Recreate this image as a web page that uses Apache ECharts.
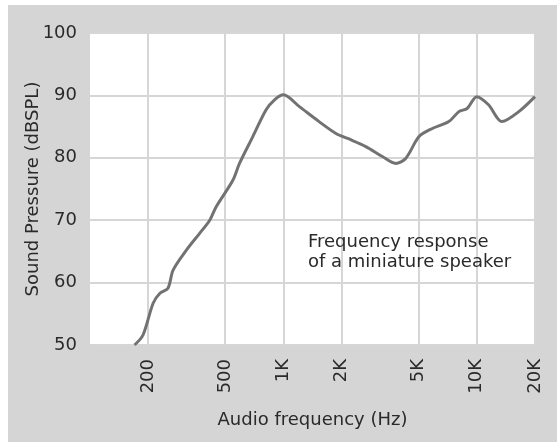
<!DOCTYPE html>
<html><head><meta charset="utf-8">
<script src="https://cdn.jsdelivr.net/npm/echarts@6/dist/echarts.min.js"></script>
<style>
html,body{margin:0;padding:0;background:#fff}
#wrap{position:relative;width:557px;height:442px;background:#fff}
#bg{position:absolute;left:8px;top:5px;width:549px;height:437px;background:#d5d5d5}
#c{position:absolute;left:0;top:0;width:557px;height:442px}
</style>
</head><body><div id="wrap"><div id="bg"></div><div id="c"></div></div>
<script>
const freqHz = [170, 188, 212, 230, 253, 269, 315, 369, 416, 450, 548, 593, 695, 814, 900, 1000, 1210, 1530, 1870, 2150, 2670, 3250, 3810, 4290, 5030, 5890, 7170, 8080, 8910, 10000, 11500, 13500, 16500, 20000];
const splDb = [50, 51.6, 56.7, 58.3, 59.1, 62.0, 65.2, 67.9, 70.0, 72.2, 76.4, 79.1, 83.4, 87.7, 89.3, 90.1, 88.2, 85.8, 83.9, 83.1, 81.8, 80.2, 79.1, 79.9, 83.4, 84.7, 85.8, 87.4, 87.9, 89.8, 88.5, 85.8, 87.4, 89.8];
const xTickValues = [200, 500, 1000, 2000, 5000, 10000, 20000];
const xTickLabels = ['200', '500', '1K', '2K', '5K', '10K', '20K'];
const yMin = 50, yMax = 100, yStep = 10;
const annotation = ['Frequency response', 'of a miniature speaker'];

const FONT = 'DejaVu Sans';
const TXT = '#2a2a2a';
const chart = echarts.init(document.getElementById('c'), null, {renderer: 'canvas'});
chart.setOption({
  backgroundColor: 'transparent',
  animation: false,
  grid: {left: 90, right: 22, top: 33, bottom: 97, show: true, backgroundColor: '#ffffff', borderWidth: 0},
  xAxis: {
    type: 'log', logBase: 10, min: 100, max: 20000,
    name: 'Audio frequency (Hz)', nameLocation: 'middle', nameGap: 66, nameMoveOverlap: false,
    nameTextStyle: {fontFamily: FONT, fontSize: 18, color: TXT},
    axisLine: {show: false},
    axisTick: {show: false, customValues: xTickValues},
    axisLabel: {
      customValues: xTickValues, rotate: 90, margin: 14,
      fontFamily: FONT, fontSize: 18, color: TXT,
      formatter: function (v) {
        const i = xTickValues.findIndex(t => Math.abs(t - v) / t < 1e-6);
        return i >= 0 ? xTickLabels[i] : '';
      }
    },
    splitLine: {show: true, lineStyle: {color: '#d6d6d6', width: 2}},
    minorSplitLine: {show: false}
  },
  yAxis: {
    type: 'value', min: yMin, max: yMax, interval: yStep,
    name: 'Sound Pressure (dBSPL)', nameLocation: 'middle', nameGap: 48, nameRotate: 90, nameMoveOverlap: false,
    nameTextStyle: {fontFamily: FONT, fontSize: 18, color: TXT},
    axisLine: {show: false}, axisTick: {show: false},
    axisLabel: {margin: 13, fontFamily: FONT, fontSize: 18, color: TXT},
    splitLine: {show: true, lineStyle: {color: '#d6d6d6', width: 2}}
  },
  graphic: [{
    type: 'text', left: 308, top: 232, z: 10,
    style: {text: annotation.join('\n'), font: '18px "DejaVu Sans"', fill: TXT, lineHeight: 20}
  }],
  series: [{
    type: 'line', smooth: 0.3, showSymbol: false,
    data: freqHz.map((f, i) => [f, splDb[i]]),
    lineStyle: {color: '#727272', width: 3}
  }]
});
</script>
</body></html>
